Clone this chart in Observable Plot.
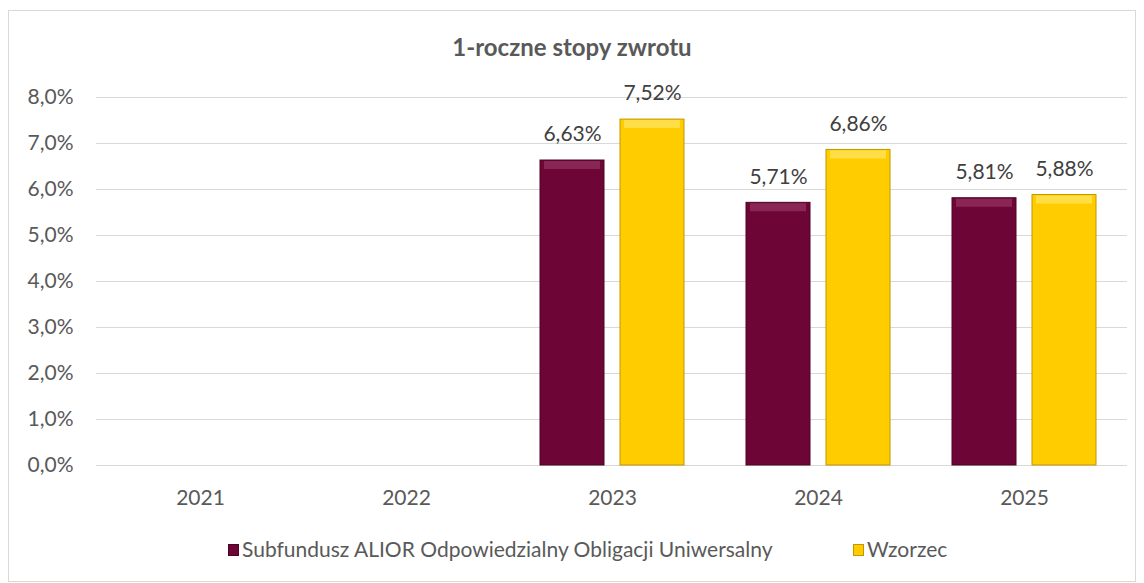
<!DOCTYPE html>
<html>
<head>
<meta charset="utf-8">
<script src="https://cdn.jsdelivr.net/npm/d3@7"></script>
<script src="https://cdn.jsdelivr.net/npm/@observablehq/plot@0.6"></script>
<style>
  html, body { margin: 0; padding: 0; background: #fff; }
  body { width: 1144px; height: 583px; position: relative; overflow: hidden; font-family: Lato, "Open Sans", sans-serif; }
  #frame { position: absolute; left: 8px; top: 10px; width: 1128px; height: 572px; border: 1px solid #d9d9d9; box-sizing: border-box; }
  #title { position: absolute; left: 0; top: 32px; width: 1144px; text-align: center; font-weight: bold; font-size: 24px; line-height: 29px; color: #595959; }
  #chart { position: absolute; left: 0; top: 80px; }
  #legend { position: absolute; left: 0; top: 536px; width: 1144px; font-size: 21px; line-height: 25px; color: #595959; }
  .sw { position: absolute; top: 8px; width: 11px; height: 12px; box-sizing: border-box; }
  .lt { position: absolute; top: 0; white-space: nowrap; }
</style>
</head>
<body>
<div id="frame"></div>
<div id="title">1-roczne stopy zwrotu</div>
<div id="chart"></div>
<div id="legend"></div>
<script>
const years = ["2021", "2022", "2023", "2024", "2025"];
const fundValues = [null, null, 6.63, 5.71, 5.81];
const benchValues = [null, null, 7.52, 6.86, 5.88];
const seriesNames = ["Subfundusz ALIOR Odpowiedzialny Obligacji Uniwersalny", "Wzorzec"];
const yTicks = [0, 1, 2, 3, 4, 5, 6, 7, 8];

const maroon = "#6d0636";
const maroonHi = "#8a2656";
const yellow = "#ffcc00";
const yellowHi = "#ffdf45";

const pl = d3.formatLocale({decimal: ",", thousands: " ", grouping: [3], currency: ["", ""]});
const fmtTick = v => pl.format(".1f")(v) + "%";
const fmtVal = v => pl.format(".2f")(v) + "%";

const fund = years.map((y, i) => ({year: y, value: fundValues[i]})).filter(d => d.value != null);
const bench = years.map((y, i) => ({year: y, value: benchValues[i]})).filter(d => d.value != null);

const off = 40;   // half distance between bar centres
const inset = 71; // (band - barWidth) / 2

const chart = Plot.plot({
  width: 1144,
  height: 435,
  marginTop: 17,
  marginBottom: 50,
  marginLeft: 96,
  marginRight: 17,
  style: {fontFamily: "Lato, 'Open Sans', sans-serif", fontSize: "21px", color: "#595959", background: "transparent"},
  x: {domain: years, padding: 0, label: null, tickSize: 0, tickPadding: 25},
  y: {domain: [0, 8], ticks: yTicks, tickFormat: fmtTick, label: null, tickSize: 0, tickPadding: 23},
  marks: [
    Plot.ruleY(yTicks, {stroke: "#d9d9d9", strokeWidth: 1}),
    Plot.barY(fund, {x: "year", y: "value", fill: maroon, stroke: "#4a0424", strokeWidth: 1, dx: -off, insetLeft: inset, insetRight: inset}),
    Plot.tickY(fund, {x: "year", y: "value", stroke: maroonHi, strokeWidth: 8, dy: 4.5, dx: -off, insetLeft: inset + 4, insetRight: inset + 4}),
    Plot.barY(bench, {x: "year", y: "value", fill: yellow, stroke: "#c49500", strokeWidth: 1, dx: off, insetLeft: inset, insetRight: inset}),
    Plot.tickY(bench, {x: "year", y: "value", stroke: yellowHi, strokeWidth: 8, dy: 4.5, dx: off, insetLeft: inset + 4, insetRight: inset + 4}),
    Plot.text(fund, {x: "year", y: "value", text: d => fmtVal(d.value), dx: -off, dy: -26, fill: "#404040", fontSize: 21}),
    Plot.text(bench, {x: "year", y: "value", text: d => fmtVal(d.value), dx: off, dy: -26, fill: "#404040", fontSize: 21})
  ]
});
document.getElementById("chart").appendChild(chart);

const legend = document.getElementById("legend");
const items = [
  {name: seriesNames[0], color: maroon, border: "#4a0424", sx: 228, tx: 242},
  {name: seriesNames[1], color: yellow, border: "#c49500", sx: 853, tx: 867}
];
for (const it of items) {
  const sw = document.createElement("div");
  sw.className = "sw";
  sw.style.left = it.sx + "px";
  sw.style.background = it.color;
  sw.style.border = "1px solid " + it.border;
  legend.appendChild(sw);
  const t = document.createElement("div");
  t.className = "lt";
  t.style.left = it.tx + "px";
  t.textContent = it.name;
  legend.appendChild(t);
}
</script>
</body>
</html>
